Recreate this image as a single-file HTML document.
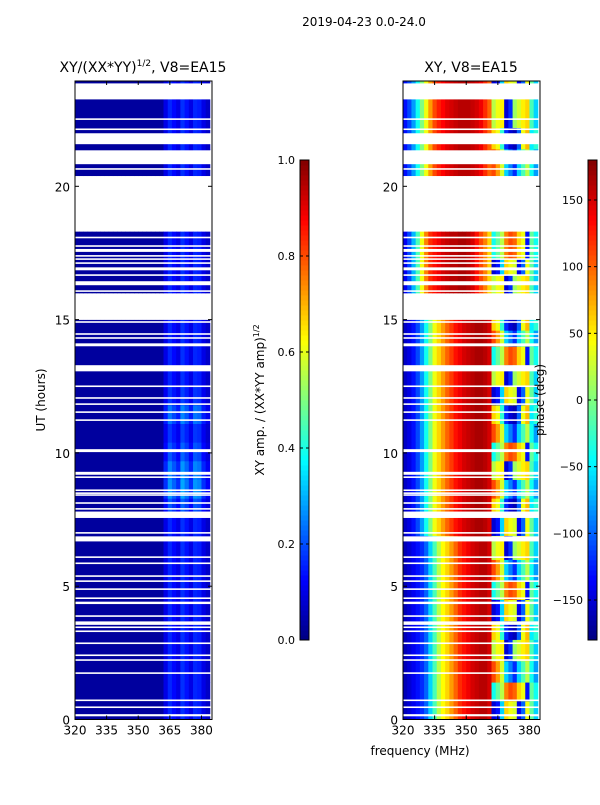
<!DOCTYPE html>
<html><head><meta charset="utf-8"><style>
html,body{margin:0;padding:0;background:#fff;}
svg text{font-family:"DejaVu Sans","Liberation Sans",sans-serif;fill:#000;}
</style></head><body>
<svg id="fig" width="600" height="800" viewBox="0 0 600 800" xmlns="http://www.w3.org/2000/svg">
<text x="364" y="26" font-size="12" text-anchor="middle">2019-04-23 0.0-24.0</text>
<text x="143" y="72" font-size="14" text-anchor="middle">XY/(XX*YY)<tspan font-size="9" dy="-6">1/2</tspan><tspan dy="6">, V8=EA15</tspan></text>
<text x="471" y="72" font-size="14" text-anchor="middle">XY, V8=EA15</text>
<text transform="translate(45,400) rotate(-90)" font-size="12" text-anchor="middle">UT (hours)</text>
<text x="420" y="755" font-size="12" text-anchor="middle">frequency (MHz)</text>
<text transform="translate(264,400) rotate(-90)" font-size="12" text-anchor="middle">XY amp. / (XX*YY amp)<tspan font-size="8" dy="-5">1/2</tspan></text>
<g id="plots"></g>
<text transform="translate(544,400) rotate(-90)" font-size="12" text-anchor="middle">phase (deg)</text>
</svg>
<script>
// ---- data ----
const freqs = [320,322,324,326,328,330,332,334,336,338,340,342,344,346,348,350,352,354,356,358,360,362,364,366,368,370,372,374,376,378,380,382,384];
const gapStart = [23.26,22.49,22.11,21.58,20.83,20.62,18.31,18.05,17.73,17.54,17.36,17.24,17.09,16.85,16.64,16.29,16.04,14.99,14.88,14.43,14.28,14.0,13.06,12.47,12.03,11.8,11.5,11.2,10.03,9.18,9.06,8.57,8.46,8.39,8.09,7.87,7.56,6.97,6.68,6.06,5.83,5.35,5.16,4.86,4.52,4.33,3.85,3.55,3.43,3.28,2.83,2.38,2.2,1.71,0.69,0.43,0.12];
const gapEnd   = [23.86,22.55,22.17,21.99,21.35,20.68,20.37,18.11,17.79,17.65,17.42,17.3,17.15,16.96,16.7,16.44,16.1,15.95,14.94,14.49,14.34,14.11,13.29,12.53,12.09,11.86,11.56,11.26,10.14,9.29,9.12,8.63,8.52,8.45,8.15,7.93,7.8,7.03,6.87,6.12,5.89,5.41,5.22,4.92,4.58,4.42,3.91,3.68,3.49,3.34,2.89,2.44,2.26,1.77,0.75,0.49,0.2];
const bandStart = [0,0.7,1.4,2.2,3.0,3.7,4.5,5.2,6.0,6.9,7.6,8.3,9.0,9.7,10.4,11.1,11.8,12.5,13.3,14.0,14.6,16.0,16.7,17.3,20.4,21.4,22.2,23.3];
const bandEnd   = [0.7,1.4,2.2,3.0,3.7,4.5,5.2,6.0,6.9,7.6,8.3,9.0,9.7,10.4,11.1,11.8,12.5,13.3,14.0,14.6,15.0,16.7,17.3,18.3,21.4,22.2,23.3,23.95];
const bandLeftProfile  = [0,0,0,0,0,0,0,0,0,1,1,1,1,1,1,1,1,1,1,1,1,2,2,2,3,3,3,3];
const bandRightProfile = [0,3,1,2,4,0,3,1,2,0,4,1,2,3,1,4,0,2,3,1,4,2,0,3,1,4,2,0];
const bandAmpScale = [1,1,1,1,1,1,1,1,1,1,1.3,1.7,1.6,1.3,1.1,1.5,1.1,1,1,1,1,1,1,1,1,1,1,1];
const phaseLeft0 = [-160,-150,-140,-130,-120,-100,-60,-20,20,45,60,80,100,120,130,140,150,155,160,160,150];
const phaseLeft1 = [-155,-145,-130,-110,-80,-40,0,40,60,80,100,115,130,140,150,155,160,165,165,160,150];
const phaseLeft2 = [-140,-110,-70,-20,40,90,120,130,140,150,155,160,160,165,165,160,150,130,110,90,60];
const phaseLeft3 = [-130,-110,-80,-40,0,40,80,110,125,135,145,150,155,160,160,160,155,150,140,120,100];
const phaseRight0 = [-150,-130,-60,60,40,30,-140,-100,40,-10,-60];
const phaseRight1 = [110,80,30,-60,-90,-120,-60,-20,20,-40,-80];
const phaseRight2 = [20,40,50,-150,-120,10,30,50,60,-20,-60];
const phaseRight3 = [-40,-10,20,90,110,100,60,40,-130,-10,-40];
const phaseRight4 = [60,40,-30,-120,-150,-160,-100,40,70,-50,-30];
const ampLeft = [0.03,0.03,0.03,0.03,0.03,0.03,0.03,0.03,0.03,0.03,0.03,0.03,0.03,0.03,0.03,0.03,0.03,0.03,0.03,0.03,0.03];
const ampRight = [0.1,0.16,0.13,0.1,0.17,0.14,0.1,0.16,0.15,0.1,0.07];
const ampTicks = [0,0.2,0.4,0.6,0.8,1.0];
const phaseTicks = [-150,-100,-50,0,50,100,150];
const xTicks = [320,335,350,365,380];
const yTicks = [0,5,10,15,20];

const leftProfiles=[phaseLeft0,phaseLeft1,phaseLeft2,phaseLeft3];
const rightProfiles=[phaseRight0,phaseRight1,phaseRight2,phaseRight3,phaseRight4];

function jet(v){v=Math.max(0,Math.min(1,v));
 const r=Math.min(4*v-1.5,-4*v+4.5),g=Math.min(4*v-0.5,-4*v+3.5),b=Math.min(4*v+0.5,-4*v+2.5);
 const c=x=>Math.round(255*Math.max(0,Math.min(1,x)));
 return `rgb(${c(r)},${c(g)},${c(b)})`;}

const NS="http://www.w3.org/2000/svg";
const plots=document.getElementById('plots');
function mk(tag,attrs,parent){const e=document.createElementNS(NS,tag);for(const k in attrs)e.setAttribute(k,attrs[k]);(parent||plots).appendChild(e);return e;}

const F0=320,F1=385,H0=0,H1=23.95,TOP=81,BOT=719.5,W=137;
function yS(h){return BOT-(h-H0)/(H1-H0)*(BOT-TOP);}

function panel(x0,name,valFn){
 const xS=f=>x0+(f-F0)/(F1-F0)*W;
 const g=mk('g',{});
 
 
 const cp=mk('clipPath',{id:'clip-'+name},g);
 mk('rect',{x:x0,y:TOP,width:W,height:BOT-TOP},cp);
 const cells=mk('g',{'clip-path':'url(#clip-'+name+')'},g);
 for(let b=0;b<bandStart.length;b++){
  for(let c=0;c<freqs.length-1;c++){
   const r=mk('rect',{x:xS(freqs[c]),y:yS(bandEnd[b]),width:xS(freqs[c+1])-xS(freqs[c])+0.4,height:yS(bandStart[b])-yS(bandEnd[b])+0.4,fill:valFn(b,c)},cells);
   
   
  }
 }
 for(let i=0;i<gapStart.length;i++){
  const r=mk('rect',{x:x0,y:yS(gapEnd[i]),width:W,height:yS(gapStart[i])-yS(gapEnd[i]),fill:'#fff'},cells);
  
  
 }
 const fr=mk('rect',{x:x0,y:TOP,width:W,height:BOT-TOP,fill:'none',stroke:'#000','stroke-width':1},g);
 
 
 xTicks.forEach(t=>{const x=xS(t);
  mk('line',{x1:x,x2:x,y1:BOT,y2:BOT-4,stroke:'#000'},g);
  mk('line',{x1:x,x2:x,y1:TOP,y2:TOP+4,stroke:'#000'},g);
  const tx=mk('text',{x:x,y:BOT+15,'font-size':12,'text-anchor':'middle'},g);tx.textContent=t;
  
  
 });
 yTicks.forEach(t=>{const y=yS(t);
  mk('line',{x1:x0,x2:x0+4,y1:y,y2:y,stroke:'#000'},g);
  mk('line',{x1:x0+W,x2:x0+W-4,y1:y,y2:y,stroke:'#000'},g);
  const tx=mk('text',{x:x0-5,y:y+5,'font-size':12,'text-anchor':'end'},g);tx.textContent=t;
  
  
 });
}
panel(75,'amp-heatmap',(b,c)=>{
 const v=c<21?ampLeft[c]:ampRight[c-21]*bandAmpScale[b];return jet(v);});
panel(403,'phase-heatmap',(b,c)=>{
 const v=c<21?leftProfiles[bandLeftProfile[b]][c]:rightProfiles[bandRightProfile[b]][c-21];
 return jet((v+180)/360);});

function colorbar(x0,name,vmin,vmax,ticks,fmt){
 const T=160,B=640,Wc=9;
 const g=mk('g',{});
 
 
 const n=96;
 for(let i=0;i<n;i++){
  mk('rect',{x:x0,y:B-(i+1)*(B-T)/n,width:Wc,height:(B-T)/n+0.5,fill:jet((i+0.5)/n)},g);
 }
 mk('rect',{x:x0,y:T,width:Wc,height:B-T,fill:'none',stroke:'#000','stroke-width':1},g);
 ticks.forEach(t=>{const y=B-(t-vmin)/(vmax-vmin)*(B-T);
  mk('line',{x1:x0,x2:x0+3,y1:y,y2:y,stroke:'#000'},g);
  mk('line',{x1:x0+Wc,x2:x0+Wc-3,y1:y,y2:y,stroke:'#000'},g);
  const tx=mk('text',{x:x0-5,y:y+4,'font-size':11,'text-anchor':'end'},g);tx.textContent=fmt(t);
  
  
 });
}
colorbar(300,'amp-colorbar',0,1,ampTicks,t=>t.toFixed(1));
colorbar(588,'phase-colorbar',-180,180,phaseTicks,t=>t<0?'\u2212'+(-t):String(t));
</script>
</body></html>
